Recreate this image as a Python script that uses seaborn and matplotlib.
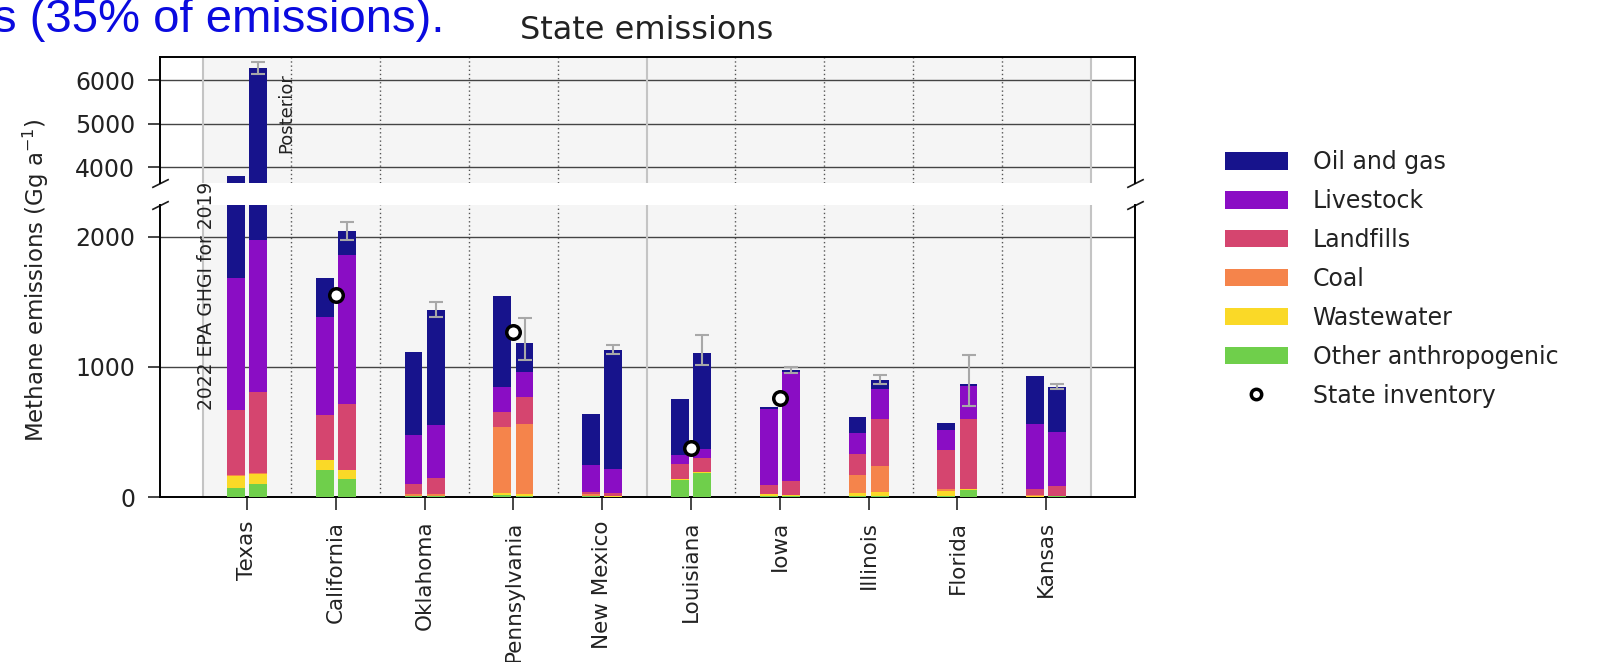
import numpy as np
import pandas as pd
import matplotlib
matplotlib.use('Agg')
import matplotlib.pyplot as plt
from matplotlib.patches import Patch
from matplotlib.lines import Line2D
import seaborn as sns

states = ['Texas', 'California', 'Oklahoma', 'Pennsylvania', 'New Mexico',
          'Louisiana', 'Iowa', 'Illinois', 'Florida', 'Kansas']
# stacking order, bottom to top
sectors = ['Other anthropogenic', 'Wastewater', 'Coal', 'Landfills', 'Livestock', 'Oil and gas']

# 2022 EPA GHGI for 2019 (Gg a-1)
epa_other = [72, 210, 5, 15, 5, 128, 5, 5, 10, 3]
epa_wastewater = [87, 72, 5, 15, 5, 8, 15, 25, 40, 8]
epa_coal = [10, 0, 12, 508, 15, 0, 0, 137, 10, 5]
epa_landfills = [498, 346, 81, 116, 15, 121, 70, 166, 305, 44]
epa_livestock = [1018, 757, 371, 192, 204, 63, 590, 157, 150, 504]
epa_oilgas = [2105, 302, 641, 697, 392, 436, 15, 125, 54, 364]

# posterior (Gg a-1)
post_other = [103, 135, 5, 10, 3, 185, 5, 5, 55, 5]
post_wastewater = [72, 70, 5, 15, 3, 10, 10, 35, 10, 5]
post_coal = [10, 0, 10, 539, 5, 0, 0, 195, 0, 0]
post_landfills = [623, 513, 125, 205, 19, 105, 110, 368, 538, 75]
post_livestock = [1166, 1141, 406, 193, 182, 70, 840, 230, 247, 415]
post_oilgas = [4306, 187, 885, 223, 916, 740, 15, 70, 17, 346]
post_err_low = [130, 72, 51, 129, 26, 92, 26, 36, 170, 15]
post_err_high = [140, 69, 64, 195, 39, 139, 20, 33, 228, 20]

inventory_states = ['California', 'Pennsylvania', 'Louisiana', 'Iowa']
inventory_values = [1551, 1269, 377, 764]

colors = {'Oil and gas': '#17138c', 'Livestock': '#8a0dc4', 'Landfills': '#d5456f',
          'Coal': '#f5844b', 'Wastewater': '#fad927', 'Other anthropogenic': '#6fcf4b'}

epa_parts = [epa_other, epa_wastewater, epa_coal, epa_landfills, epa_livestock, epa_oilgas]
post_parts = [post_other, post_wastewater, post_coal, post_landfills, post_livestock, post_oilgas]

# long table of cumulative tops, one row per bar segment
rows = []
for src, parts in [('EPA', epa_parts), ('Posterior', post_parts)]:
    cum = np.cumsum(np.array(parts), axis=0)
    for k, sec in enumerate(sectors):
        for i, st in enumerate(states):
            rows.append({'state': st, 'source': src, 'sector': sec, 'top': cum[k, i]})
df = pd.DataFrame(rows)
post_total = df[(df.source == 'Posterior') & (df.sector == 'Oil and gas')]['top'].values

sns.set_theme(style='white')
plt.rcParams['font.family'] = ['DejaVu Sans']
txt = '#222222'

fig = plt.figure(figsize=(16, 6.62), dpi=100)
ax_top = fig.add_axes([0.1, 0.7236, 0.6094, 0.1903])
ax_bot = fig.add_axes([0.1, 0.2492, 0.6094, 0.4411])

for ax in (ax_top, ax_bot):
    ax.axvspan(-0.5, 9.5, color='#f5f5f5', zorder=0, lw=0)
    for b in np.arange(-0.5, 10, 1):
        if b in (-0.5, 4.5, 9.5):
            ax.axvline(b, color='#c4c4c4', lw=1.5, zorder=1)
        else:
            ax.axvline(b, color='#555555', lw=1, ls=(0, (1, 2)), zorder=1)
    # cumulative overlay -> stacked bars
    for sec in reversed(sectors):
        sns.barplot(data=df[df.sector == sec], x='state', y='top', hue='source',
                    order=states, hue_order=['EPA', 'Posterior'],
                    palette=[colors[sec]] * 2, width=0.5, gap=0.2, saturation=1,
                    errorbar=None, legend=False, linewidth=0, edgecolor='none',
                    zorder=3, ax=ax)
    ax.errorbar(np.arange(len(states)) + 0.125, post_total,
                yerr=[post_err_low, post_err_high], fmt='none', ecolor='#a8a8a8',
                elinewidth=1.5, capsize=5, capthick=1.5, zorder=4)
    ax.set_axisbelow(True)
    ax.yaxis.grid(True, color='#444444', lw=1)
    ax.xaxis.grid(False)
    ax.set_xlim(-0.98, 10.0)
    ax.set_xlabel('')
    ax.set_ylabel('')
    for s in ax.spines.values():
        s.set_color('black')
        s.set_linewidth(1.4)
    ax.tick_params(axis='y', direction='out', length=9, width=1.2, left=True,
                   pad=9, labelsize=17, labelcolor=txt)

sns.scatterplot(x=[states.index(s) for s in inventory_states], y=inventory_values,
                ax=ax_bot, s=95, color='white', edgecolor='black', linewidth=2.5,
                zorder=5, legend=False)

ax_top.set_ylim(3640, 6530)
ax_top.set_yticks([4000, 5000, 6000])
ax_top.spines['bottom'].set_visible(False)
ax_top.tick_params(axis='x', bottom=False, labelbottom=False)

ax_bot.set_ylim(0, 2245)
ax_bot.set_yticks([0, 1000, 2000])
ax_bot.spines['top'].set_visible(False)
ax_bot.set_xticks(range(len(states)))
ax_bot.set_xticklabels(states, rotation=90)
ax_bot.tick_params(axis='x', direction='out', length=9, width=1.2, bottom=True,
                   pad=8, labelsize=15.5, labelcolor=txt)

# break marks
d = 0.5
kw = dict(marker=[(-1, -d), (1, d)], markersize=12, linestyle='none', color='k',
          mec='k', mew=1.2, clip_on=False)
ax_top.plot([0, 1], [0, 0], transform=ax_top.transAxes, **kw)
ax_bot.plot([0, 1], [1, 1], transform=ax_bot.transAxes, **kw)

fig.text(0.0225, 0.577, 'Methane emissions (Gg a$^{-1}$)', rotation=90,
         ha='center', va='center', fontsize=16.5, color=txt)
fig.text(0.404, 0.941, 'State emissions', ha='center', va='baseline',
         fontsize=23, color=txt)
fig.text(0.129, 0.725, '2022 EPA GHGI for 2019', rotation=90, ha='center',
         va='top', fontsize=13.5, color=txt)
fig.text(0.179, 0.890, 'Posterior', rotation=90, ha='center', va='top',
         fontsize=13, color=txt)
fig.text(-0.0045, 0.952, 's (35% of emissions).', ha='left', va='baseline',
         fontsize=34, color='#0a0adf', family=['Liberation Sans', 'DejaVu Sans'])

handles = [Patch(facecolor=colors[s], edgecolor='none') for s in reversed(sectors)]
handles.append(Line2D([], [], marker='o', color='none', markerfacecolor='white',
                      markeredgecolor='black', markeredgewidth=2.5, markersize=7.5))
labels = list(reversed(sectors)) + ['State inventory']
leg = fig.legend(handles, labels, loc='upper left', bbox_to_anchor=(0.7656, 0.773),
                 frameon=False, fontsize=17, handlelength=2.65, handleheight=0.75,
                 labelspacing=0.63, handletextpad=1.06, borderaxespad=0, borderpad=0)
for t in leg.get_texts():
    t.set_color(txt)

fig.savefig('out.png', dpi=100, facecolor='white')
